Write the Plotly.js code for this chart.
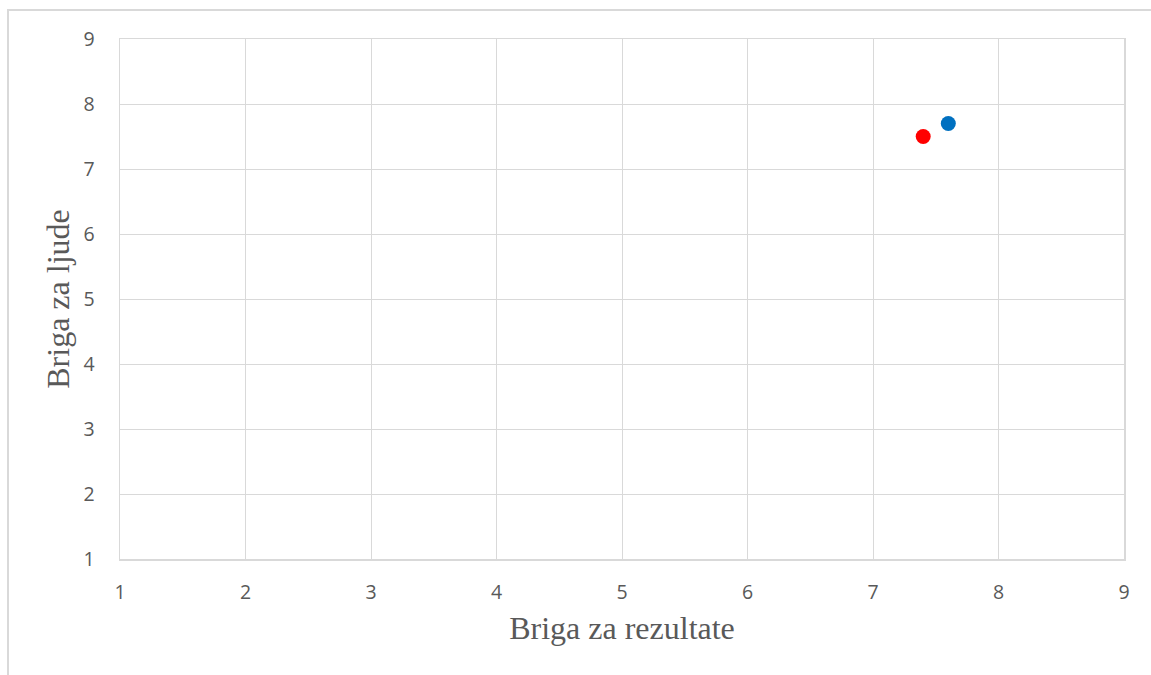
<!DOCTYPE html>
<html>
<head>
<meta charset="utf-8">
<script src="https://cdn.plot.ly/plotly-3.0.1.min.js"></script>
<style>
html,body{margin:0;padding:0;background:#fff;}
#frame{position:absolute;left:7px;top:9px;width:1160px;height:700px;border-left:2px solid #D9D9D9;border-top:2px solid #D9D9D9;}
#chart{position:absolute;left:0;top:0;width:1151px;height:675px;}
</style>
</head>
<body>
<div id="frame"></div>
<div id="chart"></div>
<script>
const seriesNames = ["A", "B"];
const resultsX = [7.4, 7.6];
const peopleY = [7.5, 7.7];
const colors = ["#FF0000", "#0070C0"];
const tickVals = [1, 2, 3, 4, 5, 6, 7, 8, 9];

const traces = seriesNames.map((n, i) => ({
  type: "scatter",
  mode: "markers",
  name: n,
  x: [resultsX[i]],
  y: [peopleY[i]],
  marker: {color: colors[i], size: 15},
  hoverinfo: "x+y"
}));

const axisCommon = {
  range: [1, 9],
  tickvals: tickVals,
  showgrid: true,
  gridcolor: "#D9D9D9",
  gridwidth: 1,
  showline: true,
  mirror: true,
  linecolor: "#D9D9D9",
  linewidth: 1.5,
  zeroline: false,
  ticks: "",
  tickfont: {family: "Open Sans, Noto Sans, sans-serif", size: 19.5, color: "#595959"},
  fixedrange: true
};

const layout = {
  width: 1151,
  height: 675,
  paper_bgcolor: "rgba(0,0,0,0)",
  plot_bgcolor: "#fff",
  showlegend: false,
  margin: {l: 120, r: 27, t: 39, b: 116},
  xaxis: Object.assign({}, axisCommon, {
    ticklabelstandoff: 15,
    title: {text: "Briga za rezultate", font: {family: "Liberation Serif, Times New Roman, serif", size: 32, color: "#595959"}, standoff: 12}
  }),
  yaxis: Object.assign({}, axisCommon, {
    ticklabelstandoff: 20,
    title: {text: "Briga za ljude", font: {family: "Liberation Serif, Times New Roman, serif", size: 32, color: "#595959"}, standoff: 4}
  })
};

Plotly.newPlot("chart", traces, layout, {displayModeBar: false, staticPlot: true});
</script>
</body>
</html>
